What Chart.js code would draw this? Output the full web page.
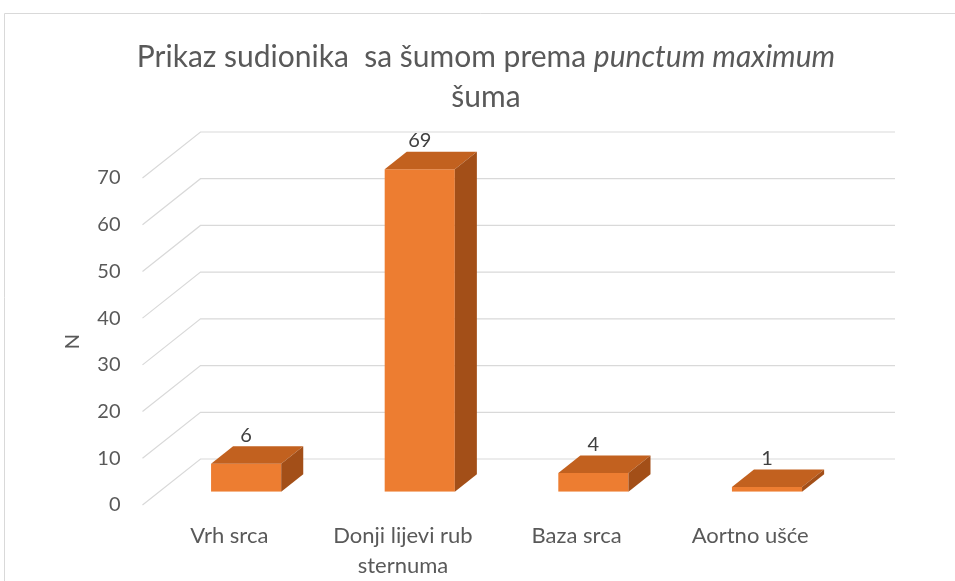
<!DOCTYPE html>
<html>
<head>
<meta charset="utf-8">
<script src="https://cdn.jsdelivr.net/npm/chart.js@4.4.1/dist/chart.umd.min.js"></script>
<style>
  html, body { margin: 0; padding: 0; background: #ffffff; }
  #wrap { position: relative; width: 955px; height: 581px; }
  canvas { display: block; }
</style>
</head>
<body>
<div id="wrap"><canvas id="c" width="955" height="581"></canvas></div>
<script>
// ---- data ----
const categories = ["Vrh srca", ["Donji lijevi rub", "sternuma"], "Baza srca", "Aortno ušće"];
const counts = [6, 69, 4, 1];
const yTicksMin = 0;
const yTicksMax = 70;
const yTickStep = 10;
const yAxisTitle = "N";
const titleLine1 = [
  { text: "Prikaz sudionika  sa šumom prema ", italic: false },
  { text: "punctum maximum", italic: true }
];
const titleLine2 = "šuma";

// ---- styles ----
const FONT = "Lato, 'Open Sans', sans-serif";
const TEXT = "#595959";
const GRID = "#d9d9d9";
const FRONT = "#ED7D31";
const TOPC = "#C2611F";
const SIDE = "#A34F18";
// 3D depth of the plot box (front plane -> back wall)
const DEPTH_DX = 58, DEPTH_DY = -46;
const BAR_FRONT = 0.29;  // bar front position in depth
const BAR_DEPTH = 0.38;  // bar thickness in depth

const threeD = {
  id: 'threeD',
  beforeDraw(chart) {
    const ctx = chart.ctx;
    ctx.save();
    ctx.strokeStyle = GRID;
    ctx.lineWidth = 1;
    ctx.beginPath();
    ctx.moveTo(4.5, 600); ctx.lineTo(4.5, 13.5); ctx.lineTo(960, 13.5);
    ctx.stroke();
    ctx.restore();
  },
  beforeDatasetsDraw(chart) {
    const ctx = chart.ctx;
    const ys = chart.scales.y;
    const area = chart.chartArea;
    ctx.save();
    ctx.strokeStyle = GRID;
    ctx.lineWidth = 1.2;
    ys.ticks.forEach(t => {
      const y = ys.getPixelForValue(t.value);
      ctx.beginPath();
      ctx.moveTo(area.left, y);
      ctx.lineTo(area.left + DEPTH_DX, y + DEPTH_DY);
      ctx.lineTo(area.right + DEPTH_DX, y + DEPTH_DY);
      ctx.stroke();
    });
    ctx.restore();
    ctx.save();
    ctx.translate(BAR_FRONT * DEPTH_DX, BAR_FRONT * DEPTH_DY);
  },
  afterDatasetsDraw(chart) {
    const ctx = chart.ctx;
    const ddx = BAR_DEPTH * DEPTH_DX, ddy = BAR_DEPTH * DEPTH_DY;
    const meta = chart.getDatasetMeta(0);
    meta.data.forEach((bar, i) => {
      const p = bar.getProps(['x', 'y', 'base', 'width'], true);
      const L = p.x - p.width / 2, R = p.x + p.width / 2;
      const T = p.y, B = p.base;
      // top face
      ctx.fillStyle = TOPC;
      ctx.beginPath();
      ctx.moveTo(L, T); ctx.lineTo(R, T); ctx.lineTo(R + ddx, T + ddy); ctx.lineTo(L + ddx, T + ddy);
      ctx.closePath(); ctx.fill();
      // side face
      ctx.fillStyle = SIDE;
      ctx.beginPath();
      ctx.moveTo(R, T); ctx.lineTo(R + ddx, T + ddy); ctx.lineTo(R + ddx, B + ddy); ctx.lineTo(R, B);
      ctx.closePath(); ctx.fill();
      // data label
      ctx.fillStyle = "#404040";
      ctx.font = "20px " + FONT;
      ctx.textAlign = "center";
      ctx.textBaseline = "bottom";
      ctx.fillText(String(counts[i]), p.x, T + ddy - 1);
    });
    ctx.restore();
  },
  afterDraw(chart) {
    const ctx = chart.ctx;
    const cx = 486;
    ctx.save();
    ctx.fillStyle = TEXT;
    ctx.textBaseline = "middle";
    ctx.textAlign = "left";
    const fReg = "30px " + FONT, fIt = "italic 30px " + FONT;
    let total = 0;
    titleLine1.forEach(part => { ctx.font = part.italic ? fIt : fReg; total += ctx.measureText(part.text).width; });
    let x = cx - total / 2;
    titleLine1.forEach(part => {
      ctx.font = part.italic ? fIt : fReg;
      ctx.fillText(part.text, x, 57);
      x += ctx.measureText(part.text).width;
    });
    ctx.font = fReg;
    ctx.textAlign = "center";
    ctx.fillText(titleLine2, cx, 97);
    ctx.restore();
  }
};

new Chart(document.getElementById('c'), {
  type: 'bar',
  data: {
    labels: categories,
    datasets: [{
      data: counts,
      backgroundColor: FRONT,
      borderWidth: 0,
      categoryPercentage: 1.0,
      barPercentage: 0.404
    }]
  },
  options: {
    responsive: false,
    animation: false,
    devicePixelRatio: 1,
    layout: { padding: { top: 178, right: 118, bottom: 0, left: 0 } },
    plugins: { legend: { display: false }, tooltip: { enabled: false }, title: { display: false } },
    scales: {
      x: {
        grid: { display: false, drawTicks: false },
        border: { display: false },
        ticks: { color: TEXT, font: { family: FONT, size: 22, lineHeight: 1.364 }, padding: 16, maxRotation: 0, autoSkip: false },
        afterFit(scale) { scale.height = 76; }
      },
      y: {
        min: yTicksMin, max: yTicksMax,
        grid: { display: false, drawTicks: false },
        border: { display: false },
        ticks: { stepSize: yTickStep, color: TEXT, font: { family: FONT, size: 20 }, padding: 22 },
        title: { display: true, text: yAxisTitle, color: TEXT, font: { family: FONT, size: 20, lineHeight: 1.2 }, padding: { top: 61, bottom: 0 } },
        afterFit(scale) { scale.width = 142.5; }
      }
    }
  },
  plugins: [threeD]
});
</script>
</body>
</html>
